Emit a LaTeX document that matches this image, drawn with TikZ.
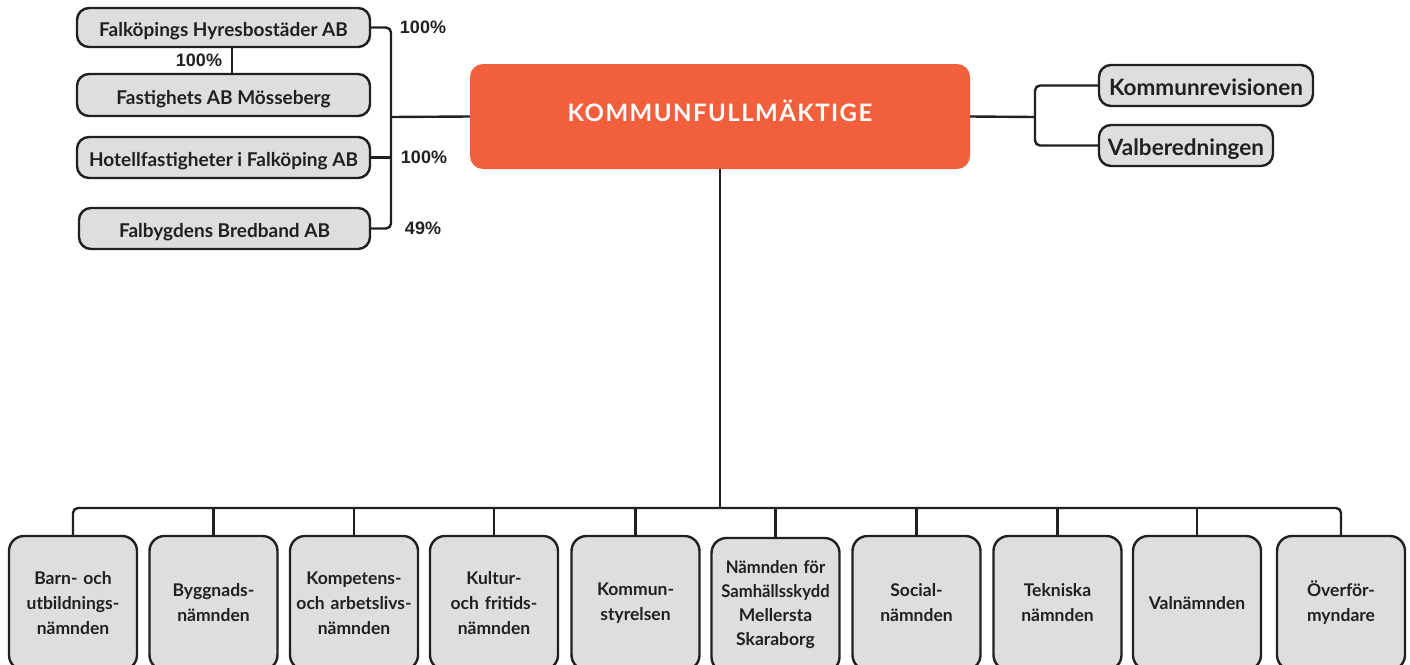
\documentclass[tikz,border=0pt]{standalone}
\usepackage{fontspec}
\setmainfont{Lato}
\newfontfamily\arialfont{Liberation Sans}
\definecolor{orgc}{HTML}{F15F3C}
\definecolor{boxg}{HTML}{DDDEE0}
\definecolor{ink}{HTML}{231F20}
\begin{document}
\begin{tikzpicture}[x=1pt,y=-1pt,
  conn/.style={draw=ink,line width=2.4pt},
  cobox/.style={draw=ink,fill=boxg,line width=2.4pt,rounded corners=12pt,inner sep=0pt,
     text height=18pt,text depth=0pt,
     font=\fontsize{19}{22}\selectfont\bfseries,text=ink},
  sidebox/.style={draw=ink,fill=boxg,line width=2.4pt,rounded corners=12pt,inner sep=0pt,
     text height=19pt,text depth=0pt,
     font=\fontsize{22.5}{26}\selectfont\bfseries,text=ink,minimum height=41pt},
  nbox/.style={draw=ink,fill=boxg,line width=2.4pt,rounded corners=15pt,inner sep=0pt,
     minimum width=128pt,minimum height=134pt,align=center,text width=126pt,
     font=\fontsize{17.5}{25}\selectfont\bfseries,text=ink},
  pct/.style={font=\arialfont\fontsize{18}{20}\selectfont\bfseries,text=ink,inner sep=0pt}]
\useasboundingbox (0,0) rectangle (1410,664);
\begin{scope}
\clip (0,0) rectangle (1410,664);
% left companies
\node[cobox,minimum width=293pt,minimum height=39pt] (h1) at (223.5,27.5) {Falköpings Hyresbostäder AB};
\node[cobox,minimum width=293pt,minimum height=42pt] (h2) at (223.5,95) {Fastighets AB Mösseberg};
\node[cobox,minimum width=293pt,minimum height=41pt] (h3) at (223.5,157.5) {Hotellfastigheter i Falköping AB};
\node[cobox,minimum width=291pt,minimum height=41pt] (h4) at (224.5,228.5) {Falbygdens Bredband AB};
% central
\node[fill=orgc,rounded corners=13pt,minimum width=500pt,minimum height=105pt,inner sep=0pt,
  text height=17pt,text depth=7pt,
  text=white,font=\fontsize{24}{27}\selectfont\bfseries\addfontfeatures{LetterSpace=6}] (kf) at (720,116.5) {KOMMUNFULLMÄKTIGE};
% right
\node[sidebox,minimum width=214pt] (kr) at (1206,85.5) {Kommunrevisionen};
\node[sidebox,minimum width=174pt] (vb) at (1186,145.5) {Valberedningen};
% bottom
\node[nbox] (b1) at (73,603) {Barn- och\\utbildnings-\\nämnden};
\node[nbox] (b2) at (213.5,603) {Byggnads-\\nämnden};
\node[nbox] (b3) at (354,603) {Kompetens-\\och arbetslivs-\\nämnden};
\node[nbox] (b4) at (494,603) {Kultur-\\och fritids-\\nämnden};
\node[nbox] (b5) at (635.5,603) {Kommun-\\styrelsen};
\node[nbox,font=\fontsize{17.5}{24}\selectfont\bfseries] (b6) at (775.5,605) {{\addfontfeatures{FakeStretch=0.95}Nämnden för}\\{\addfontfeatures{FakeStretch=0.95}Samhällsskydd}\\Mellersta\\Skaraborg};
\node[nbox] (b7) at (916.5,603) {Social-\\nämnden};
\node[nbox] (b8) at (1057.5,603) {Tekniska\\nämnden};
\node[nbox] (b9) at (1197,603) {Valnämnden};
\node[nbox] (b10) at (1341,603) {Överför-\\myndare};
\end{scope}
% coordinates
\coordinate (lbus) at (391,117);
\coordinate (rbus) at (1035,117);
\coordinate (bbus) at (720,508);
\coordinate (sub) at (232,0);
% left connectors
\draw[conn,rounded corners=5pt] (h1.east) -| (lbus) |- (h4.east);
\draw[conn] (h3.east) -- (h3.east -| lbus);
\draw[conn] (lbus) -- (kf.west);
\draw[conn] (h1.south -| sub) -- (h2.north -| sub);
% right connectors
\draw[conn] (kf.east) -- (rbus);
\draw[conn,rounded corners=5pt] (kr.west) -| (rbus) |- (vb.west);
% bottom connectors
\draw[conn] (kf.south) -- (bbus);
\draw[conn,rounded corners=5pt] (b1.north) |- (bbus) -| (b10.north);
\foreach \n in {b2,b3,b4,b5,b6,b7,b8,b9}{\draw[conn] (\n.north) -- (\n.north |- bbus);}
% labels
\node[pct] (p1) at (423,27) {100\%};
\node[pct] (p2) at (199,60) {100\%};
\node[pct] (p3) at (424,157) {100\%};
\node[pct] (p4) at (423,228) {49\%};
\end{tikzpicture}
\end{document}
